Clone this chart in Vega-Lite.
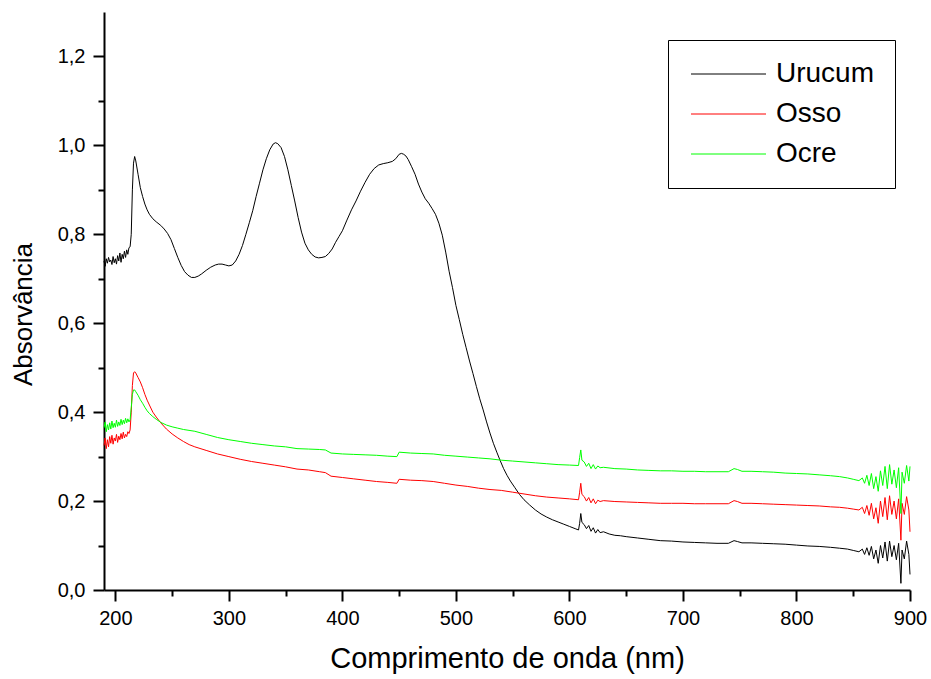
{
  "$schema": "https://vega.github.io/schema/vega-lite/v6.json",
  "width": 806,
  "height": 578,
  "autosize": {"type": "none"},
  "padding": {"left": 104, "top": 12, "right": 21, "bottom": 89},
  "background": "white",
  "config": {
    "font": "Liberation Sans",
    "view": {"stroke": null},
    "axis": {"grid": false, "domainColor": "black", "domainWidth": 2, "tickColor": "black", "tickWidth": 2, "labelColor": "black", "titleColor": "black", "labelFont": "Liberation Sans", "titleFont": "Liberation Sans", "titleFontWeight": "normal"}
  },
  "data": {
    "values": [
      {"s":"Urucum","w":190,"a":0.740},{"s":"Urucum","w":191,"a":0.728},{"s":"Urucum","w":192,"a":0.745},{"s":"Urucum","w":193,"a":0.735},{"s":"Urucum","w":194,"a":0.748},{"s":"Urucum","w":195,"a":0.738},{"s":"Urucum","w":196,"a":0.742},{"s":"Urucum","w":197,"a":0.732},{"s":"Urucum","w":198,"a":0.750},{"s":"Urucum","w":199,"a":0.736},{"s":"Urucum","w":200,"a":0.745},{"s":"Urucum","w":201,"a":0.733},{"s":"Urucum","w":202,"a":0.752},{"s":"Urucum","w":203,"a":0.740},{"s":"Urucum","w":204,"a":0.758},{"s":"Urucum","w":205,"a":0.737},{"s":"Urucum","w":206,"a":0.755},{"s":"Urucum","w":207,"a":0.745},{"s":"Urucum","w":208,"a":0.762},{"s":"Urucum","w":209,"a":0.748},{"s":"Urucum","w":210,"a":0.765},{"s":"Urucum","w":211,"a":0.755},{"s":"Urucum","w":212,"a":0.770},{"s":"Urucum","w":213,"a":0.772},{"s":"Urucum","w":214,"a":0.800},{"s":"Urucum","w":215,"a":0.900},{"s":"Urucum","w":216,"a":0.960},{"s":"Urucum","w":217,"a":0.975},{"s":"Urucum","w":218,"a":0.965},{"s":"Urucum","w":220,"a":0.935},{"s":"Urucum","w":222,"a":0.905},{"s":"Urucum","w":224,"a":0.885},{"s":"Urucum","w":226,"a":0.868},{"s":"Urucum","w":228,"a":0.855},{"s":"Urucum","w":230,"a":0.845},{"s":"Urucum","w":233,"a":0.835},{"s":"Urucum","w":236,"a":0.828},{"s":"Urucum","w":240,"a":0.820},{"s":"Urucum","w":243,"a":0.812},{"s":"Urucum","w":246,"a":0.802},{"s":"Urucum","w":249,"a":0.788},{"s":"Urucum","w":252,"a":0.768},{"s":"Urucum","w":255,"a":0.748},{"s":"Urucum","w":258,"a":0.730},{"s":"Urucum","w":261,"a":0.716},{"s":"Urucum","w":264,"a":0.708},{"s":"Urucum","w":267,"a":0.703},{"s":"Urucum","w":270,"a":0.703},{"s":"Urucum","w":273,"a":0.706},{"s":"Urucum","w":276,"a":0.711},{"s":"Urucum","w":280,"a":0.719},{"s":"Urucum","w":284,"a":0.726},{"s":"Urucum","w":288,"a":0.731},{"s":"Urucum","w":291,"a":0.733},{"s":"Urucum","w":294,"a":0.733},{"s":"Urucum","w":297,"a":0.731},{"s":"Urucum","w":300,"a":0.729},{"s":"Urucum","w":303,"a":0.731},{"s":"Urucum","w":306,"a":0.740},{"s":"Urucum","w":309,"a":0.755},{"s":"Urucum","w":312,"a":0.775},{"s":"Urucum","w":315,"a":0.800},{"s":"Urucum","w":318,"a":0.826},{"s":"Urucum","w":321,"a":0.853},{"s":"Urucum","w":324,"a":0.885},{"s":"Urucum","w":327,"a":0.915},{"s":"Urucum","w":330,"a":0.945},{"s":"Urucum","w":333,"a":0.970},{"s":"Urucum","w":336,"a":0.990},{"s":"Urucum","w":339,"a":1.003},{"s":"Urucum","w":341,"a":1.006},{"s":"Urucum","w":343,"a":1.004},{"s":"Urucum","w":346,"a":0.995},{"s":"Urucum","w":349,"a":0.975},{"s":"Urucum","w":352,"a":0.945},{"s":"Urucum","w":355,"a":0.910},{"s":"Urucum","w":358,"a":0.875},{"s":"Urucum","w":361,"a":0.838},{"s":"Urucum","w":364,"a":0.805},{"s":"Urucum","w":367,"a":0.780},{"s":"Urucum","w":370,"a":0.765},{"s":"Urucum","w":373,"a":0.755},{"s":"Urucum","w":376,"a":0.749},{"s":"Urucum","w":379,"a":0.747},{"s":"Urucum","w":382,"a":0.748},{"s":"Urucum","w":385,"a":0.750},{"s":"Urucum","w":388,"a":0.757},{"s":"Urucum","w":391,"a":0.767},{"s":"Urucum","w":394,"a":0.782},{"s":"Urucum","w":397,"a":0.795},{"s":"Urucum","w":400,"a":0.808},{"s":"Urucum","w":404,"a":0.832},{"s":"Urucum","w":408,"a":0.855},{"s":"Urucum","w":412,"a":0.875},{"s":"Urucum","w":416,"a":0.897},{"s":"Urucum","w":420,"a":0.917},{"s":"Urucum","w":424,"a":0.935},{"s":"Urucum","w":428,"a":0.948},{"s":"Urucum","w":432,"a":0.956},{"s":"Urucum","w":436,"a":0.959},{"s":"Urucum","w":440,"a":0.961},{"s":"Urucum","w":444,"a":0.964},{"s":"Urucum","w":447,"a":0.970},{"s":"Urucum","w":450,"a":0.980},{"s":"Urucum","w":452,"a":0.982},{"s":"Urucum","w":454,"a":0.980},{"s":"Urucum","w":456,"a":0.976},{"s":"Urucum","w":458,"a":0.968},{"s":"Urucum","w":461,"a":0.952},{"s":"Urucum","w":464,"a":0.935},{"s":"Urucum","w":467,"a":0.913},{"s":"Urucum","w":470,"a":0.895},{"s":"Urucum","w":473,"a":0.880},{"s":"Urucum","w":476,"a":0.870},{"s":"Urucum","w":479,"a":0.858},{"s":"Urucum","w":482,"a":0.845},{"s":"Urucum","w":485,"a":0.825},{"s":"Urucum","w":488,"a":0.798},{"s":"Urucum","w":491,"a":0.760},{"s":"Urucum","w":494,"a":0.717},{"s":"Urucum","w":497,"a":0.680},{"s":"Urucum","w":500,"a":0.640},{"s":"Urucum","w":503,"a":0.608},{"s":"Urucum","w":506,"a":0.575},{"s":"Urucum","w":509,"a":0.545},{"s":"Urucum","w":512,"a":0.515},{"s":"Urucum","w":515,"a":0.487},{"s":"Urucum","w":518,"a":0.458},{"s":"Urucum","w":521,"a":0.430},{"s":"Urucum","w":524,"a":0.405},{"s":"Urucum","w":527,"a":0.378},{"s":"Urucum","w":530,"a":0.353},{"s":"Urucum","w":533,"a":0.330},{"s":"Urucum","w":536,"a":0.310},{"s":"Urucum","w":539,"a":0.291},{"s":"Urucum","w":542,"a":0.273},{"s":"Urucum","w":545,"a":0.258},{"s":"Urucum","w":548,"a":0.245},{"s":"Urucum","w":552,"a":0.230},{"s":"Urucum","w":556,"a":0.215},{"s":"Urucum","w":560,"a":0.203},{"s":"Urucum","w":565,"a":0.191},{"s":"Urucum","w":570,"a":0.180},{"s":"Urucum","w":575,"a":0.171},{"s":"Urucum","w":580,"a":0.164},{"s":"Urucum","w":585,"a":0.158},{"s":"Urucum","w":590,"a":0.153},{"s":"Urucum","w":595,"a":0.148},{"s":"Urucum","w":600,"a":0.143},{"s":"Urucum","w":605,"a":0.138},{"s":"Urucum","w":608,"a":0.135},{"s":"Urucum","w":609,"a":0.150},{"s":"Urucum","w":610,"a":0.172},{"s":"Urucum","w":611,"a":0.152},{"s":"Urucum","w":613,"a":0.147},{"s":"Urucum","w":615,"a":0.138},{"s":"Urucum","w":617,"a":0.145},{"s":"Urucum","w":619,"a":0.132},{"s":"Urucum","w":621,"a":0.140},{"s":"Urucum","w":623,"a":0.128},{"s":"Urucum","w":625,"a":0.136},{"s":"Urucum","w":627,"a":0.129},{"s":"Urucum","w":630,"a":0.131},{"s":"Urucum","w":635,"a":0.126},{"s":"Urucum","w":640,"a":0.123},{"s":"Urucum","w":645,"a":0.122},{"s":"Urucum","w":650,"a":0.120},{"s":"Urucum","w":660,"a":0.117},{"s":"Urucum","w":670,"a":0.114},{"s":"Urucum","w":680,"a":0.111},{"s":"Urucum","w":690,"a":0.110},{"s":"Urucum","w":700,"a":0.108},{"s":"Urucum","w":710,"a":0.107},{"s":"Urucum","w":720,"a":0.106},{"s":"Urucum","w":730,"a":0.105},{"s":"Urucum","w":740,"a":0.105},{"s":"Urucum","w":745,"a":0.111},{"s":"Urucum","w":748,"a":0.109},{"s":"Urucum","w":752,"a":0.106},{"s":"Urucum","w":760,"a":0.106},{"s":"Urucum","w":770,"a":0.105},{"s":"Urucum","w":780,"a":0.104},{"s":"Urucum","w":790,"a":0.103},{"s":"Urucum","w":800,"a":0.101},{"s":"Urucum","w":810,"a":0.099},{"s":"Urucum","w":820,"a":0.098},{"s":"Urucum","w":830,"a":0.096},{"s":"Urucum","w":838,"a":0.094},{"s":"Urucum","w":845,"a":0.092},{"s":"Urucum","w":850,"a":0.089},{"s":"Urucum","w":855,"a":0.086},{"s":"Urucum","w":858,"a":0.092},{"s":"Urucum","w":860,"a":0.080},{"s":"Urucum","w":862,"a":0.095},{"s":"Urucum","w":864,"a":0.078},{"s":"Urucum","w":866,"a":0.098},{"s":"Urucum","w":868,"a":0.070},{"s":"Urucum","w":870,"a":0.090},{"s":"Urucum","w":872,"a":0.060},{"s":"Urucum","w":874,"a":0.100},{"s":"Urucum","w":876,"a":0.072},{"s":"Urucum","w":878,"a":0.108},{"s":"Urucum","w":880,"a":0.065},{"s":"Urucum","w":882,"a":0.110},{"s":"Urucum","w":884,"a":0.075},{"s":"Urucum","w":886,"a":0.100},{"s":"Urucum","w":888,"a":0.068},{"s":"Urucum","w":890,"a":0.105},{"s":"Urucum","w":892,"a":0.015},{"s":"Urucum","w":893,"a":0.090},{"s":"Urucum","w":895,"a":0.070},{"s":"Urucum","w":897,"a":0.110},{"s":"Urucum","w":899,"a":0.080},{"s":"Urucum","w":900,"a":0.035},
      {"s":"Osso","w":190,"a":0.325},{"s":"Osso","w":191,"a":0.342},{"s":"Osso","w":192,"a":0.318},{"s":"Osso","w":193,"a":0.338},{"s":"Osso","w":194,"a":0.322},{"s":"Osso","w":195,"a":0.345},{"s":"Osso","w":196,"a":0.330},{"s":"Osso","w":197,"a":0.348},{"s":"Osso","w":198,"a":0.328},{"s":"Osso","w":199,"a":0.342},{"s":"Osso","w":200,"a":0.335},{"s":"Osso","w":201,"a":0.350},{"s":"Osso","w":202,"a":0.332},{"s":"Osso","w":203,"a":0.346},{"s":"Osso","w":204,"a":0.338},{"s":"Osso","w":205,"a":0.352},{"s":"Osso","w":206,"a":0.340},{"s":"Osso","w":207,"a":0.355},{"s":"Osso","w":208,"a":0.342},{"s":"Osso","w":209,"a":0.350},{"s":"Osso","w":210,"a":0.345},{"s":"Osso","w":211,"a":0.356},{"s":"Osso","w":212,"a":0.352},{"s":"Osso","w":213,"a":0.360},{"s":"Osso","w":214,"a":0.400},{"s":"Osso","w":215,"a":0.460},{"s":"Osso","w":216,"a":0.488},{"s":"Osso","w":217,"a":0.491},{"s":"Osso","w":218,"a":0.488},{"s":"Osso","w":220,"a":0.478},{"s":"Osso","w":222,"a":0.468},{"s":"Osso","w":224,"a":0.455},{"s":"Osso","w":226,"a":0.440},{"s":"Osso","w":228,"a":0.427},{"s":"Osso","w":230,"a":0.416},{"s":"Osso","w":233,"a":0.400},{"s":"Osso","w":236,"a":0.389},{"s":"Osso","w":240,"a":0.376},{"s":"Osso","w":245,"a":0.362},{"s":"Osso","w":250,"a":0.351},{"s":"Osso","w":255,"a":0.342},{"s":"Osso","w":260,"a":0.334},{"s":"Osso","w":265,"a":0.327},{"s":"Osso","w":270,"a":0.322},{"s":"Osso","w":280,"a":0.314},{"s":"Osso","w":290,"a":0.306},{"s":"Osso","w":300,"a":0.300},{"s":"Osso","w":310,"a":0.294},{"s":"Osso","w":320,"a":0.289},{"s":"Osso","w":330,"a":0.285},{"s":"Osso","w":340,"a":0.281},{"s":"Osso","w":350,"a":0.277},{"s":"Osso","w":360,"a":0.272},{"s":"Osso","w":370,"a":0.270},{"s":"Osso","w":380,"a":0.266},{"s":"Osso","w":385,"a":0.264},{"s":"Osso","w":390,"a":0.256},{"s":"Osso","w":400,"a":0.253},{"s":"Osso","w":410,"a":0.250},{"s":"Osso","w":420,"a":0.247},{"s":"Osso","w":430,"a":0.244},{"s":"Osso","w":440,"a":0.242},{"s":"Osso","w":448,"a":0.240},{"s":"Osso","w":450,"a":0.249},{"s":"Osso","w":460,"a":0.247},{"s":"Osso","w":470,"a":0.246},{"s":"Osso","w":480,"a":0.244},{"s":"Osso","w":490,"a":0.240},{"s":"Osso","w":500,"a":0.236},{"s":"Osso","w":510,"a":0.233},{"s":"Osso","w":520,"a":0.229},{"s":"Osso","w":530,"a":0.226},{"s":"Osso","w":540,"a":0.224},{"s":"Osso","w":550,"a":0.220},{"s":"Osso","w":560,"a":0.216},{"s":"Osso","w":570,"a":0.212},{"s":"Osso","w":580,"a":0.209},{"s":"Osso","w":590,"a":0.207},{"s":"Osso","w":600,"a":0.205},{"s":"Osso","w":608,"a":0.203},{"s":"Osso","w":609,"a":0.220},{"s":"Osso","w":610,"a":0.240},{"s":"Osso","w":611,"a":0.215},{"s":"Osso","w":613,"a":0.210},{"s":"Osso","w":615,"a":0.200},{"s":"Osso","w":617,"a":0.208},{"s":"Osso","w":619,"a":0.196},{"s":"Osso","w":621,"a":0.205},{"s":"Osso","w":623,"a":0.194},{"s":"Osso","w":625,"a":0.202},{"s":"Osso","w":627,"a":0.199},{"s":"Osso","w":630,"a":0.201},{"s":"Osso","w":640,"a":0.199},{"s":"Osso","w":650,"a":0.198},{"s":"Osso","w":660,"a":0.197},{"s":"Osso","w":670,"a":0.196},{"s":"Osso","w":680,"a":0.195},{"s":"Osso","w":690,"a":0.195},{"s":"Osso","w":700,"a":0.195},{"s":"Osso","w":710,"a":0.194},{"s":"Osso","w":720,"a":0.194},{"s":"Osso","w":730,"a":0.194},{"s":"Osso","w":740,"a":0.194},{"s":"Osso","w":745,"a":0.201},{"s":"Osso","w":748,"a":0.199},{"s":"Osso","w":752,"a":0.195},{"s":"Osso","w":760,"a":0.195},{"s":"Osso","w":770,"a":0.194},{"s":"Osso","w":780,"a":0.193},{"s":"Osso","w":790,"a":0.192},{"s":"Osso","w":800,"a":0.191},{"s":"Osso","w":810,"a":0.190},{"s":"Osso","w":820,"a":0.189},{"s":"Osso","w":830,"a":0.187},{"s":"Osso","w":838,"a":0.186},{"s":"Osso","w":845,"a":0.184},{"s":"Osso","w":850,"a":0.182},{"s":"Osso","w":855,"a":0.180},{"s":"Osso","w":858,"a":0.186},{"s":"Osso","w":860,"a":0.172},{"s":"Osso","w":862,"a":0.190},{"s":"Osso","w":864,"a":0.168},{"s":"Osso","w":866,"a":0.195},{"s":"Osso","w":868,"a":0.160},{"s":"Osso","w":870,"a":0.185},{"s":"Osso","w":872,"a":0.150},{"s":"Osso","w":874,"a":0.200},{"s":"Osso","w":876,"a":0.165},{"s":"Osso","w":878,"a":0.208},{"s":"Osso","w":880,"a":0.158},{"s":"Osso","w":882,"a":0.212},{"s":"Osso","w":884,"a":0.170},{"s":"Osso","w":886,"a":0.200},{"s":"Osso","w":888,"a":0.160},{"s":"Osso","w":890,"a":0.205},{"s":"Osso","w":892,"a":0.112},{"s":"Osso","w":893,"a":0.195},{"s":"Osso","w":895,"a":0.170},{"s":"Osso","w":897,"a":0.210},{"s":"Osso","w":899,"a":0.180},{"s":"Osso","w":900,"a":0.131},
      {"s":"Ocre","w":190,"a":0.365},{"s":"Ocre","w":191,"a":0.378},{"s":"Ocre","w":192,"a":0.356},{"s":"Ocre","w":193,"a":0.372},{"s":"Ocre","w":194,"a":0.360},{"s":"Ocre","w":195,"a":0.376},{"s":"Ocre","w":196,"a":0.362},{"s":"Ocre","w":197,"a":0.380},{"s":"Ocre","w":198,"a":0.365},{"s":"Ocre","w":199,"a":0.375},{"s":"Ocre","w":200,"a":0.366},{"s":"Ocre","w":201,"a":0.382},{"s":"Ocre","w":202,"a":0.368},{"s":"Ocre","w":203,"a":0.378},{"s":"Ocre","w":204,"a":0.370},{"s":"Ocre","w":205,"a":0.384},{"s":"Ocre","w":206,"a":0.372},{"s":"Ocre","w":207,"a":0.382},{"s":"Ocre","w":208,"a":0.374},{"s":"Ocre","w":209,"a":0.386},{"s":"Ocre","w":210,"a":0.376},{"s":"Ocre","w":211,"a":0.385},{"s":"Ocre","w":212,"a":0.378},{"s":"Ocre","w":213,"a":0.383},{"s":"Ocre","w":214,"a":0.410},{"s":"Ocre","w":215,"a":0.440},{"s":"Ocre","w":216,"a":0.450},{"s":"Ocre","w":217,"a":0.450},{"s":"Ocre","w":218,"a":0.446},{"s":"Ocre","w":220,"a":0.438},{"s":"Ocre","w":222,"a":0.428},{"s":"Ocre","w":224,"a":0.420},{"s":"Ocre","w":226,"a":0.411},{"s":"Ocre","w":228,"a":0.403},{"s":"Ocre","w":230,"a":0.397},{"s":"Ocre","w":233,"a":0.390},{"s":"Ocre","w":236,"a":0.384},{"s":"Ocre","w":240,"a":0.377},{"s":"Ocre","w":245,"a":0.371},{"s":"Ocre","w":250,"a":0.367},{"s":"Ocre","w":255,"a":0.364},{"s":"Ocre","w":260,"a":0.361},{"s":"Ocre","w":270,"a":0.357},{"s":"Ocre","w":280,"a":0.350},{"s":"Ocre","w":290,"a":0.343},{"s":"Ocre","w":300,"a":0.338},{"s":"Ocre","w":310,"a":0.334},{"s":"Ocre","w":320,"a":0.330},{"s":"Ocre","w":330,"a":0.327},{"s":"Ocre","w":340,"a":0.324},{"s":"Ocre","w":350,"a":0.322},{"s":"Ocre","w":360,"a":0.318},{"s":"Ocre","w":370,"a":0.317},{"s":"Ocre","w":380,"a":0.316},{"s":"Ocre","w":385,"a":0.315},{"s":"Ocre","w":390,"a":0.308},{"s":"Ocre","w":400,"a":0.306},{"s":"Ocre","w":410,"a":0.305},{"s":"Ocre","w":420,"a":0.304},{"s":"Ocre","w":430,"a":0.303},{"s":"Ocre","w":440,"a":0.301},{"s":"Ocre","w":448,"a":0.300},{"s":"Ocre","w":450,"a":0.310},{"s":"Ocre","w":460,"a":0.308},{"s":"Ocre","w":470,"a":0.307},{"s":"Ocre","w":480,"a":0.306},{"s":"Ocre","w":490,"a":0.303},{"s":"Ocre","w":500,"a":0.301},{"s":"Ocre","w":510,"a":0.299},{"s":"Ocre","w":520,"a":0.297},{"s":"Ocre","w":530,"a":0.295},{"s":"Ocre","w":540,"a":0.292},{"s":"Ocre","w":550,"a":0.290},{"s":"Ocre","w":560,"a":0.288},{"s":"Ocre","w":570,"a":0.286},{"s":"Ocre","w":580,"a":0.284},{"s":"Ocre","w":590,"a":0.282},{"s":"Ocre","w":600,"a":0.281},{"s":"Ocre","w":608,"a":0.280},{"s":"Ocre","w":609,"a":0.298},{"s":"Ocre","w":610,"a":0.315},{"s":"Ocre","w":611,"a":0.292},{"s":"Ocre","w":613,"a":0.288},{"s":"Ocre","w":615,"a":0.278},{"s":"Ocre","w":617,"a":0.285},{"s":"Ocre","w":619,"a":0.273},{"s":"Ocre","w":621,"a":0.282},{"s":"Ocre","w":623,"a":0.272},{"s":"Ocre","w":625,"a":0.279},{"s":"Ocre","w":627,"a":0.275},{"s":"Ocre","w":630,"a":0.276},{"s":"Ocre","w":640,"a":0.273},{"s":"Ocre","w":650,"a":0.272},{"s":"Ocre","w":660,"a":0.270},{"s":"Ocre","w":670,"a":0.269},{"s":"Ocre","w":680,"a":0.268},{"s":"Ocre","w":690,"a":0.268},{"s":"Ocre","w":700,"a":0.267},{"s":"Ocre","w":710,"a":0.267},{"s":"Ocre","w":720,"a":0.266},{"s":"Ocre","w":730,"a":0.266},{"s":"Ocre","w":740,"a":0.266},{"s":"Ocre","w":745,"a":0.273},{"s":"Ocre","w":748,"a":0.271},{"s":"Ocre","w":752,"a":0.267},{"s":"Ocre","w":760,"a":0.267},{"s":"Ocre","w":770,"a":0.266},{"s":"Ocre","w":780,"a":0.265},{"s":"Ocre","w":790,"a":0.263},{"s":"Ocre","w":800,"a":0.262},{"s":"Ocre","w":810,"a":0.261},{"s":"Ocre","w":820,"a":0.259},{"s":"Ocre","w":830,"a":0.257},{"s":"Ocre","w":838,"a":0.255},{"s":"Ocre","w":845,"a":0.252},{"s":"Ocre","w":850,"a":0.249},{"s":"Ocre","w":855,"a":0.246},{"s":"Ocre","w":858,"a":0.252},{"s":"Ocre","w":860,"a":0.240},{"s":"Ocre","w":862,"a":0.258},{"s":"Ocre","w":864,"a":0.235},{"s":"Ocre","w":866,"a":0.262},{"s":"Ocre","w":868,"a":0.228},{"s":"Ocre","w":870,"a":0.255},{"s":"Ocre","w":872,"a":0.222},{"s":"Ocre","w":874,"a":0.268},{"s":"Ocre","w":876,"a":0.235},{"s":"Ocre","w":878,"a":0.278},{"s":"Ocre","w":880,"a":0.228},{"s":"Ocre","w":882,"a":0.282},{"s":"Ocre","w":884,"a":0.238},{"s":"Ocre","w":886,"a":0.270},{"s":"Ocre","w":888,"a":0.230},{"s":"Ocre","w":890,"a":0.275},{"s":"Ocre","w":892,"a":0.172},{"s":"Ocre","w":893,"a":0.265},{"s":"Ocre","w":895,"a":0.240},{"s":"Ocre","w":897,"a":0.280},{"s":"Ocre","w":899,"a":0.245},{"s":"Ocre","w":900,"a":0.278}
    ]
  },
  "mark": {"type": "line", "strokeWidth": 1, "interpolate": "linear"},
  "encoding": {
    "x": {
      "field": "w", "type": "quantitative",
      "scale": {"domain": [190, 900], "nice": false, "zero": false},
      "axis": {
        "title": "Comprimento de onda (nm)",
        "titleFontSize": 29,
        "titlePadding": 16,
        "values": [200, 250, 300, 350, 400, 450, 500, 550, 600, 650, 700, 750, 800, 850, 900],
        "labelExpr": "datum.value % 100 === 0 ? format(datum.value, 'd') : ''",
        "labelFontSize": 20,
        "labelPadding": 7,
        "tickSize": {"condition": {"test": "datum.value % 100 === 0", "value": 11}, "value": 6},
        "labelFlush": false,
        "labelOverlap": false
      }
    },
    "y": {
      "field": "a", "type": "quantitative",
      "scale": {"domain": [0, 1.3], "nice": false},
      "axis": {
        "title": "Absorvância",
        "titleFontSize": 26,
        "titlePadding": 21,
        "titleY": 302,
        "values": [0, 0.1, 0.2, 0.3, 0.4, 0.5, 0.6, 0.7, 0.8, 0.9, 1.0, 1.1, 1.2],
        "labelExpr": "round(datum.value * 10) % 2 === 0 ? replace(format(datum.value, '.1f'), '.', ',') : ''",
        "labelFontSize": 20,
        "labelPadding": 8,
        "tickSize": {"condition": {"test": "round(datum.value * 10) % 2 === 0", "value": 11}, "value": 6},
        "labelFlush": false,
        "labelOverlap": false
      }
    },
    "color": {
      "field": "s", "type": "nominal",
      "scale": {"domain": ["Urucum", "Osso", "Ocre"], "range": ["#000000", "#ff0000", "#00ff00"]},
      "legend": {
        "title": null,
        "orient": "none",
        "legendX": 564,
        "legendY": 28,
        "strokeColor": "black",
        "fillColor": "white",
        "padding": 20,
        "symbolType": "M-4.4,0H25.6",
        "symbolSize": 25,
        "symbolStrokeWidth": 1,
        "labelFontSize": 28,
        "labelFont": "Liberation Sans",
        "labelColor": "black",
        "labelOffset": 60,
        "rowPadding": 12,
        "labelLimit": 300
      }
    }
  }
}
